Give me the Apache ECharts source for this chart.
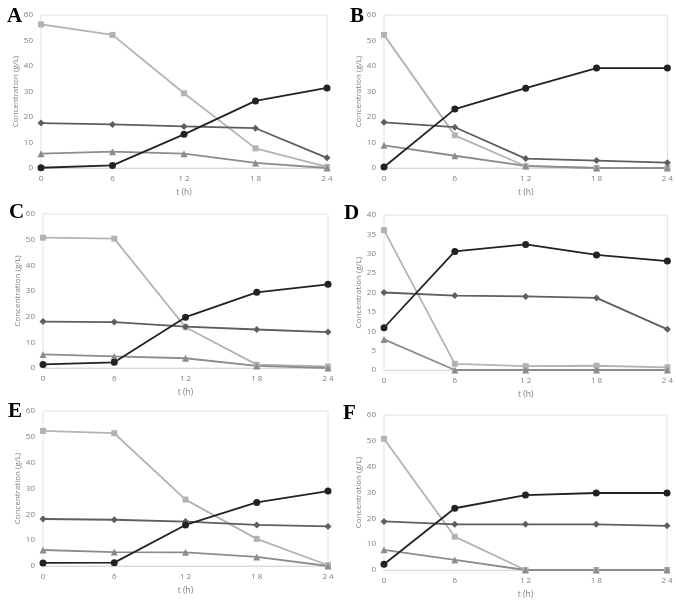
<!DOCTYPE html>
<html><head><meta charset="utf-8">
<script src="https://cdn.jsdelivr.net/npm/echarts@6/dist/echarts.min.js"></script>
<style>html,body{margin:0;padding:0;background:#fff}#c{width:676px;height:600px}</style>
</head><body><div id="c"></div>
<script>
const times = [0, 6, 12, 18, 24];
const xTicks = ['0', '6', '12', '18', '24'];
const panelLabels = ['A', 'B', 'C', 'D', 'E', 'F'];
const yMax = [60, 60, 60, 40, 60, 60];
const yInterval = [10, 10, 10, 5, 10, 10];

// squares (light gray)
const squares = [
  [56.3, 52.2, 29.3, 7.7, 0.4],
  [52.2, 12.8, 0.7, 0, 0],
  [50.8, 50.4, 15.9, 1.3, 0.6],
  [36.1, 1.6, 1.0, 1.1, 0.7],
  [52.3, 51.4, 25.7, 10.5, 0.3],
  [50.8, 12.9, 0, 0, 0]
];
// circles (black)
const circles = [
  [0.1, 1.0, 13.2, 26.3, 31.4],
  [0.4, 23.1, 31.3, 39.2, 39.2],
  [1.4, 2.2, 19.8, 29.5, 32.6],
  [10.9, 30.6, 32.4, 29.7, 28.1],
  [1.2, 1.3, 15.9, 24.6, 29.0],
  [2.2, 23.9, 29.0, 29.8, 29.8]
];
// diamonds (dark gray)
const diamonds = [
  [17.6, 17.1, 16.3, 15.6, 4.0],
  [17.9, 16.0, 3.7, 2.9, 2.1],
  [18.1, 17.9, 16.1, 15.0, 14.0],
  [20.0, 19.2, 19.0, 18.6, 10.5],
  [18.2, 17.9, 17.2, 15.9, 15.3],
  [18.8, 17.7, 17.7, 17.7, 17.1]
];
// triangles (medium gray)
const triangles = [
  [5.6, 6.4, 5.6, 2.0, 0.0],
  [8.9, 4.8, 0.8, 0, 0],
  [5.3, 4.5, 3.8, 0.8, 0],
  [7.9, 0, 0, 0, 0],
  [6.2, 5.4, 5.3, 3.5, 0],
  [7.8, 3.9, 0, 0, 0]
];

const grids = [
  {left: 41, top: 15, width: 286, height: 153},
  {left: 384, top: 15, width: 284, height: 153},
  {left: 43, top: 214, width: 285, height: 154},
  {left: 384, top: 215, width: 284, height: 155},
  {left: 43, top: 411, width: 285, height: 155},
  {left: 384, top: 415, width: 283, height: 156}
];
const labelPos = [[2, 1], [345, 1], [4, 197], [339, 198], [3, 396], [338, 398]];

const styles = [
  {data: squares, color: '#b3b3b3', symbol: 'rect', size: 6},
  {data: triangles, color: '#8c8c8c', symbol: 'triangle', size: 7},
  {data: diamonds, color: '#5e5e5e', symbol: 'diamond', size: 7},
  {data: circles, color: '#222222', symbol: 'circle', size: 7}
];

const option = {
  animation: false,
  title: panelLabels.map((t, i) => ({
    text: t, left: labelPos[i][0], top: labelPos[i][1],
    textStyle: {fontFamily: 'Liberation Serif', fontWeight: 'bold', fontSize: 21, color: '#000'}
  })),
  grid: grids.map(g => Object.assign({show: true, borderColor: '#e2e2e2', borderWidth: 1}, g)),
  xAxis: grids.map((g, i) => ({
    type: 'value', gridIndex: i, min: 0, max: 24, interval: 6,
    name: 't (h)', nameLocation: 'middle', nameGap: 20,
    nameTextStyle: {fontFamily: 'Open Sans', fontSize: 8.5, color: '#7f7f7f'},
    axisLine: {show: true, lineStyle: {color: '#d9d9d9'}},
    axisTick: {show: false}, splitLine: {show: false},
    axisLabel: {margin: 7, fontFamily: 'Open Sans', fontSize: 8, color: '#7f7f7f',
      formatter: v => xTicks[times.indexOf(v)].split('').join(' ')}
  })),
  yAxis: grids.map((g, i) => ({
    type: 'value', gridIndex: i, min: 0, max: yMax[i], interval: yInterval[i],
    name: 'Concentration (g/L)', nameLocation: 'middle', nameGap: 17,
    nameTextStyle: {fontFamily: 'Open Sans', fontSize: 8, color: '#7f7f7f'},
    axisLine: {show: false}, axisTick: {show: false}, splitLine: {show: false},
    axisLabel: {margin: 8, fontFamily: 'Open Sans', fontSize: 8, color: '#7f7f7f'}
  })),
  series: []
};

for (let i = 0; i < 6; i++) {
  styles.forEach(s => {
    option.series.push({
      type: 'line', xAxisIndex: i, yAxisIndex: i,
      data: times.map((t, k) => [t, s.data[i][k]]),
      symbol: s.symbol, symbolSize: s.size, showAllSymbol: true,
      lineStyle: {color: s.color, width: 1.8},
      itemStyle: {color: s.color},
      emphasis: {disabled: true}
    });
  });
}

echarts.init(document.getElementById('c')).setOption(option);
</script></body></html>
